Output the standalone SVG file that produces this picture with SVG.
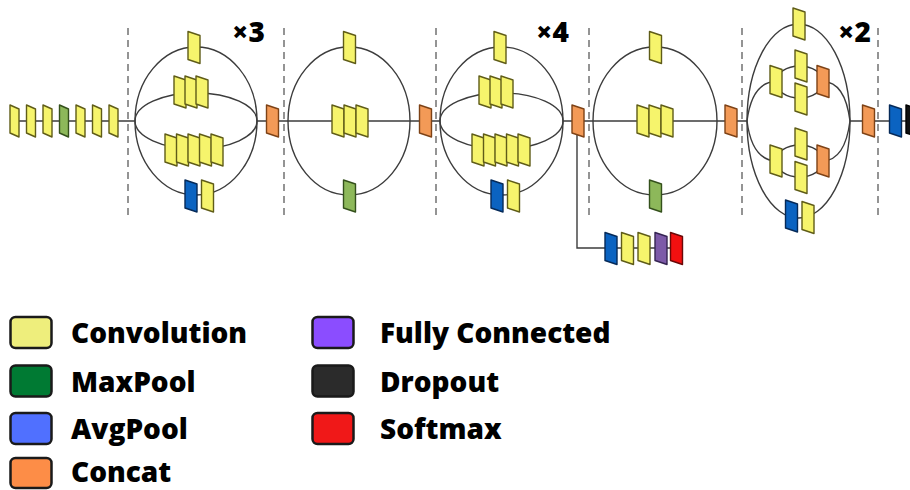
<svg xmlns="http://www.w3.org/2000/svg" xmlns:xlink="http://www.w3.org/1999/xlink" width="910" height="490" viewBox="0 0 910 490">
  <style>
    .cv { fill: #f6f46c; stroke: #5f5c18; }
    .mp { fill: #8db85a; stroke: #34501c; }
    .ap { fill: #0b63c1; stroke: #062a58; }
    .cc { fill: #f39a57; stroke: #7d4216; }
    .fc { fill: #7d5aa8; stroke: #352452; }
    .sm { fill: #f21010; stroke: #6a0808; }
    .dp { fill: #111111; stroke: #000000; }
    use.cv, use.mp, use.ap, use.cc, use.fc, use.sm, use.dp { stroke-width: 1.4; stroke-linejoin: round; }
    .w { fill: none; stroke: #3c3c3c; stroke-width: 1.4; }
    .d { fill: none; stroke: #7a7a7a; stroke-width: 1.6; stroke-dasharray: 7 5; }
    .rep { font-family: "Open Sans", "DejaVu Sans", sans-serif; font-weight: 800; font-size: 28px; fill: #000; }
    .lt { font-family: "Open Sans", "DejaVu Sans", sans-serif; font-weight: 800; font-size: 28px; fill: #000; }
    .lb { stroke: #1a1a1a; stroke-width: 2.5; }
  </style>
  <defs>
    <!-- slanted layer block, centred on its origin -->
    <path id="b" d="M-6,-16 L6,-12 L6,16 L-6,12 Z"/>
    <!-- narrower block for the stem -->
    <path id="s" d="M-4.5,-16 L4.5,-12 L4.5,16 L-4.5,12 Z"/>
  </defs>

  <rect width="910" height="490" fill="#ffffff"/>

  <!-- stage separators -->
  <g id="separators">
    <line class="d" x1="128" y1="28" x2="128" y2="216"/>
    <line class="d" x1="284" y1="28" x2="284" y2="216"/>
    <line class="d" x1="436" y1="28" x2="436" y2="216"/>
    <line class="d" x1="589" y1="28" x2="589" y2="216"/>
    <line class="d" x1="742" y1="28" x2="742" y2="216"/>
    <line class="d" x1="878" y1="28" x2="878" y2="216"/>
  </g>

  <!-- connectors -->
  <g id="connectors">
    <path class="w" d="M14,121 H135 M257,121 H440 M563,121 H747 M850,121 H910"/>
    <!-- inception A -->
    <ellipse class="w" cx="196" cy="121" rx="61" ry="74"/>
    <ellipse class="w" cx="196" cy="121" rx="61" ry="28"/>
    <!-- reduction A -->
    <ellipse class="w" cx="349" cy="121" rx="61" ry="74"/>
    <!-- inception B -->
    <ellipse class="w" cx="501.5" cy="121" rx="61.5" ry="74"/>
    <ellipse class="w" cx="501.5" cy="121" rx="61.5" ry="28"/>
    <!-- reduction B -->
    <ellipse class="w" cx="655" cy="121" rx="62" ry="74"/>
    <!-- inception C -->
    <ellipse class="w" cx="798.5" cy="121" rx="51.5" ry="97"/>
    <path class="w" d="M747,121 Q752,82 776,81.5 M823,81.5 Q845,82 850,121"/>
    <ellipse class="w" cx="799.5" cy="82" rx="23.5" ry="16"/>
    <path class="w" d="M747,121 Q752,160 776,161 M823,161 Q845,160 850,121"/>
    <ellipse class="w" cx="799.5" cy="161" rx="23.5" ry="16"/>
    <!-- auxiliary classifier -->
    <path class="w" d="M577,130 V248 H683"/>
  </g>

  <!-- stem -->
  <g id="stem">
    <g id="stem-1"><use href="#s" class="cv" x="14.5" y="121"/></g>
    <g id="stem-2"><use href="#s" class="cv" x="31" y="121"/></g>
    <g id="stem-3"><use href="#s" class="cv" x="47.5" y="121"/></g>
    <g id="stem-4"><use href="#s" class="mp" x="64" y="121"/></g>
    <g id="stem-5"><use href="#s" class="cv" x="80.5" y="121"/></g>
    <g id="stem-6"><use href="#s" class="cv" x="97" y="121"/></g>
    <g id="stem-7"><use href="#s" class="cv" x="113.5" y="121"/></g>
  </g>

  <!-- inception A -->
  <g id="inception-a">
    <g id="a-b1"><use href="#b" class="cv" x="194" y="47.5"/></g>
    <g id="a-b2">
      <use href="#b" class="cv" x="180" y="92"/>
      <use href="#b" class="cv" x="191" y="92"/>
      <use href="#b" class="cv" x="202" y="92"/>
    </g>
    <g id="a-b3">
      <use href="#b" class="cv" x="171" y="150"/>
      <use href="#b" class="cv" x="182.5" y="150"/>
      <use href="#b" class="cv" x="194" y="150"/>
      <use href="#b" class="cv" x="205.5" y="150"/>
      <use href="#b" class="cv" x="217" y="150"/>
    </g>
    <g id="a-b4">
      <use href="#b" class="ap" x="191" y="196"/>
      <use href="#b" class="cv" x="207.5" y="196"/>
    </g>
    <g id="a-concat"><use href="#b" class="cc" x="272.5" y="121"/></g>
  </g>

  <!-- reduction A -->
  <g id="reduction-a">
    <g id="ra-b1"><use href="#b" class="cv" x="349.5" y="47.5"/></g>
    <g id="ra-b2">
      <use href="#b" class="cv" x="338" y="121"/>
      <use href="#b" class="cv" x="350" y="121"/>
      <use href="#b" class="cv" x="362" y="121"/>
    </g>
    <g id="ra-b3"><use href="#b" class="mp" x="349.5" y="196"/></g>
    <g id="ra-concat"><use href="#b" class="cc" x="425.5" y="121"/></g>
  </g>

  <!-- inception B -->
  <g id="inception-b">
    <g id="b-b1"><use href="#b" class="cv" x="500" y="47.5"/></g>
    <g id="b-b2">
      <use href="#b" class="cv" x="485" y="92"/>
      <use href="#b" class="cv" x="496" y="92"/>
      <use href="#b" class="cv" x="507" y="92"/>
    </g>
    <g id="b-b3">
      <use href="#b" class="cv" x="478" y="150"/>
      <use href="#b" class="cv" x="489.5" y="150"/>
      <use href="#b" class="cv" x="501" y="150"/>
      <use href="#b" class="cv" x="512.5" y="150"/>
      <use href="#b" class="cv" x="524" y="150"/>
    </g>
    <g id="b-b4">
      <use href="#b" class="ap" x="497" y="196"/>
      <use href="#b" class="cv" x="513.5" y="196"/>
    </g>
    <g id="b-concat"><use href="#b" class="cc" x="578" y="121"/></g>
  </g>

  <!-- reduction B -->
  <g id="reduction-b">
    <g id="rb-b1"><use href="#b" class="cv" x="655.5" y="47.5"/></g>
    <g id="rb-b2">
      <use href="#b" class="cv" x="643" y="121"/>
      <use href="#b" class="cv" x="655" y="121"/>
      <use href="#b" class="cv" x="667" y="121"/>
    </g>
    <g id="rb-b3"><use href="#b" class="mp" x="655.5" y="196"/></g>
    <g id="rb-concat"><use href="#b" class="cc" x="731" y="121"/></g>
  </g>

  <!-- auxiliary classifier -->
  <g id="aux">
    <g id="aux-pool"><use href="#b" class="ap" x="611" y="248.5"/></g>
    <g id="aux-conv1"><use href="#b" class="cv" x="627.5" y="248.5"/></g>
    <g id="aux-conv2"><use href="#b" class="cv" x="644" y="248.5"/></g>
    <g id="aux-fc"><use href="#b" class="fc" x="661" y="248.5"/></g>
    <g id="aux-softmax"><use href="#b" class="sm" x="676.5" y="248.5"/></g>
  </g>

  <!-- inception C -->
  <g id="inception-c">
    <g id="c-b1"><use href="#b" class="cv" x="799" y="24"/></g>
    <g id="c-b2">
      <use href="#b" class="cv" x="776" y="81.5"/>
      <use href="#b" class="cv" x="801" y="66"/>
      <use href="#b" class="cv" x="801" y="99"/>
      <use href="#b" class="cc" x="823" y="81.5"/>
    </g>
    <g id="c-b3">
      <use href="#b" class="cv" x="776" y="161"/>
      <use href="#b" class="cv" x="801" y="144"/>
      <use href="#b" class="cv" x="801" y="177.5"/>
      <use href="#b" class="cc" x="823" y="161"/>
    </g>
    <g id="c-b4">
      <use href="#b" class="ap" x="791.5" y="216"/>
      <use href="#b" class="cv" x="808" y="217.5"/>
    </g>
    <g id="c-concat"><use href="#b" class="cc" x="868.5" y="121"/></g>
  </g>

  <!-- head -->
  <g id="head">
    <g id="head-pool"><use href="#b" class="ap" x="895.5" y="121"/></g>
    <g id="head-dropout"><use href="#b" class="dp" x="912" y="121"/></g>
  </g>

  <!-- repeat counts -->
  <g id="repeats">
    <text class="rep" x="232" y="42">×3</text>
    <text class="rep" x="536" y="42">×4</text>
    <text class="rep" x="838" y="42">×2</text>
  </g>

  <!-- legend -->
  <g id="legend">
    <g id="lg-conv"><rect class="lb" x="10.5" y="317" width="41" height="31" rx="5" fill="#eeee7c"/><text class="lt" x="71" y="343">Convolution</text></g>
    <g id="lg-max"><rect class="lb" x="10.5" y="365.5" width="41" height="31" rx="5" fill="#007a33"/><text class="lt" x="71" y="392">MaxPool</text></g>
    <g id="lg-avg"><rect class="lb" x="10.5" y="413" width="41" height="31" rx="5" fill="#5070ff"/><text class="lt" x="71" y="439">AvgPool</text></g>
    <g id="lg-concat"><rect class="lb" x="10.5" y="458" width="41" height="30" rx="5" fill="#fd8d47"/><text class="lt" x="71" y="482">Concat</text></g>
    <g id="lg-fc"><rect class="lb" x="312.5" y="317" width="41" height="31" rx="5" fill="#8b4dff"/><text class="lt" x="380" y="343">Fully Connected</text></g>
    <g id="lg-drop"><rect class="lb" x="312.5" y="365.5" width="41" height="31" rx="5" fill="#2b2b2b"/><text class="lt" x="380" y="392">Dropout</text></g>
    <g id="lg-soft"><rect class="lb" x="312.5" y="413" width="41" height="31" rx="5" fill="#f01818"/><text class="lt" x="380" y="439">Softmax</text></g>
  </g>
</svg>
